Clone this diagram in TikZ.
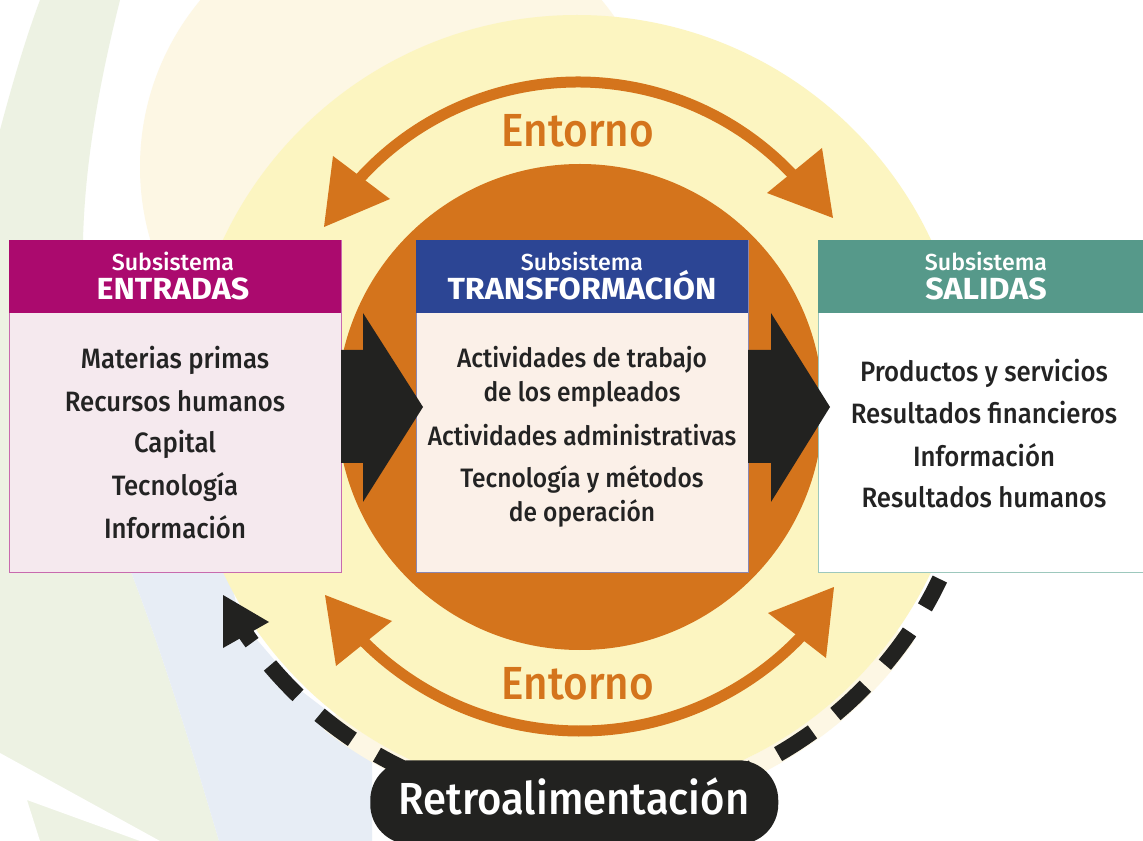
\documentclass[tikz,border=0pt]{standalone}
\usepackage{fontspec}
\setmainfont{Fira Sans}[FakeStretch=0.92, UprightFont={* Medium}, BoldFont={* Bold}]
\newfontfamily\titlefont{Fira Sans}[FakeStretch=1.055, UprightFont={* Bold}]
\newfontfamily\subfont{Fira Sans}[FakeStretch=1.0, UprightFont={* Medium}]
\newfontfamily\envfont{Fira Sans}[FakeStretch=0.91, UprightFont={* Medium}]
\newfontfamily\retrofont{Fira Sans}[FakeStretch=0.93, UprightFont={* Medium}]
\definecolor{yellowC}{HTML}{FCF5C1}
\definecolor{orangeC}{HTML}{D4741C}
\definecolor{creamC}{HTML}{FDF7E4}
\definecolor{greenBG}{HTML}{EDF2E3}
\definecolor{blueBG}{HTML}{E7EDF5}
\definecolor{magentaC}{HTML}{AB0A6E}
\definecolor{blueH}{HTML}{2C4594}
\definecolor{tealH}{HTML}{56998A}
\definecolor{entBody}{HTML}{F5E9EE}
\definecolor{entBorder}{HTML}{C86AAE}
\definecolor{trBody}{HTML}{FBF0E8}
\definecolor{trBorder}{HTML}{8A86B0}
\definecolor{salBorder}{HTML}{9DC8BD}
\definecolor{blackC}{HTML}{222220}
\definecolor{txtC}{HTML}{232323}
\tikzset{
  hdr/.style={rectangle, inner sep=0pt, anchor=north west, minimum height=54.75pt},
  bodybox/.style={rectangle, inner sep=0pt, anchor=north west, minimum height=249pt, line width=0.9pt},
  subtxt/.style={anchor=base, text=white, inner sep=0pt, font=\subfont\fontsize{17.4}{18}\selectfont},
  titletxt/.style={anchor=base, text=white, inner sep=0pt, font=\titlefont\fontsize{22.9}{24}\selectfont},
  itemtxt/.style={anchor=base, text=txtC, inner sep=0pt, font=\fontsize{21}{22}\selectfont},
  tritemtxt/.style={anchor=base, text=txtC, inner sep=0pt, font=\fontsize{20}{22}\selectfont},
  entlabel/.style={anchor=base, text=orangeC, inner sep=0pt, font=\envfont\fontsize{34.8}{36}\selectfont},
  orangearc/.style={draw=orangeC, line width=8.25pt},
  blockarrow/.style={fill=blackC},
  feedback/.style={draw=blackC, line width=12pt, dash pattern=on 30.75pt off 21.75pt, dash phase=6.75pt}
}
\begin{document}
\begin{tikzpicture}[x=0.75pt,y=-0.75pt]
\useasboundingbox (0,0) rectangle (1143,841);
\clip (0,0) rectangle (1143,841);
\fill[white] (0,0) rectangle (1143,841);
% background shapes
\fill[greenBG] (40,0) -- (120,0) .. controls (100,80) and (85,160) .. (83,240)
   .. controls (82,400) and (100,500) .. (131,572)
   .. controls (165,660) and (195,760) .. (219,841) -- (0,841) -- (0,130)
   .. controls (12,85) and (25,40) .. (40,0) -- cycle;
\fill[white] (0,753) -- (160,841) -- (140,841) -- (27,800) -- (40,841) -- (0,841) -- cycle;
\fill[creamC] (401,167) circle[radius=261];
\fill[blueBG] (105,470) .. controls (112,510) and (120,545) .. (131,572)
   .. controls (165,660) and (195,760) .. (219,841) -- (372,841) -- (372,745)
   -- (300,690) -- (240,620) -- (205,470) -- cycle;
\draw[creamC, line width=15pt] (577,406) ++(35:401) arc[start angle=35, end angle=128, radius=401];
% main discs
\fill[yellowC] (577,406) circle[radius=391];
\fill[orangeC] (580,407) circle[radius=243];
% environment arrows
\draw[orangearc] (578,377) ++(220:295) arc[start angle=220, end angle=318, radius=295];
\draw[orangearc] (580,425) ++(137:306) arc[start angle=137, end angle=42, radius=306];
\coordinate (tlt) at (324,227);
\coordinate (trt) at (833,218);
\coordinate (blt) at (325,595);
\coordinate (brt) at (834,587);
\fill[orangeC] (tlt) -- (333,156) -- (390,199) -- cycle;
\fill[orangeC] (trt) -- (822,148) -- (767,193) -- cycle;
\fill[orangeC] (blt) -- (392,621) -- (336,666) -- cycle;
\fill[orangeC] (brt) -- (768,613) -- (826,658) -- cycle;
\node[entlabel] (entTop) at (578,147) {Entorno};
\node[entlabel] (entBot) at (578,699) {Entorno};
% ENTRADAS
\node[bodybox, fill=entBody, draw=entBorder, minimum width=249pt] (entbody) at (9,240) {};
\node[hdr, fill=magentaC, minimum width=249pt] (enthead) at (9,240) {};
\node[subtxt] (entsub) at (173,271) {Subsistema};
\node[titletxt] (enttit) at (173,300) {ENTRADAS};
\node[itemtxt] (e1) at (175,369) {Materias primas};
\node[itemtxt] (e2) at (175,412) {Recursos humanos};
\node[itemtxt] (e3) at (175,453) {Capital};
\node[itemtxt] (e4) at (175,496) {Tecnología};
\node[itemtxt] (e5) at (175,538) {Información};
% TRANSFORMACION
\node[bodybox, fill=trBody, draw=trBorder, minimum width=249pt] (trbody) at (416,240) {};
\node[hdr, fill=blueH, minimum width=249pt] (trhead) at (416,240) {};
\node[subtxt] (trsub) at (582,271) {Subsistema};
\node[titletxt] (trtit) at (582,300) {TRANSFORMACIÓN};
\node[tritemtxt] (t1) at (582,368) {Actividades de trabajo};
\node[tritemtxt] (t2) at (582,402) {de los empleados};
\node[tritemtxt] (t3) at (582,446) {Actividades administrativas};
\node[tritemtxt] (t4) at (582,488) {Tecnología y métodos};
\node[tritemtxt] (t5) at (582,522) {de operación};
% SALIDAS
\node[bodybox, fill=white, draw=salBorder, minimum width=250.5pt] (salbody) at (818,240) {};
\node[hdr, fill=tealH, minimum width=250.5pt] (salhead) at (818,240) {};
\node[subtxt] (salsub) at (986,271) {Subsistema};
\node[titletxt] (saltit) at (986,300) {SALIDAS};
\node[itemtxt] (s1) at (984,382) {Productos y servicios};
\node[itemtxt] (s2) at (984,424) {Resultados financieros};
\node[itemtxt] (s3) at (984,467) {Información};
\node[itemtxt] (s4) at (984,508) {Resultados humanos};
% block arrows
\fill[blockarrow] (341,350) -- (363,350) -- (363,313) -- (423,407) -- (363,502) -- (363,463) -- (341,463) -- cycle;
\fill[blockarrow] (748,350) -- (771,350) -- (771,313) -- (830,407) -- (771,502) -- (771,463) -- (748,463) -- cycle;
% feedback
\draw[feedback] (577,406) ++(25.5:402) arc[start angle=25.5, end angle=145.5, radius=402];
\coordinate (fbtip) at (223,595);
\fill[blackC] (fbtip) -- (269,622) -- (223,648) -- cycle;
\node[fill=blackC, rounded corners=30pt, minimum width=306pt, minimum height=63pt, anchor=north west, inner sep=0pt] (retro) at (370,760) {};
\node[anchor=base, text=white, inner sep=0pt, font=\retrofont\fontsize{33.7}{35}\selectfont] (retrotxt) at (574,814) {Retroalimentación};
\end{tikzpicture}
\end{document}
